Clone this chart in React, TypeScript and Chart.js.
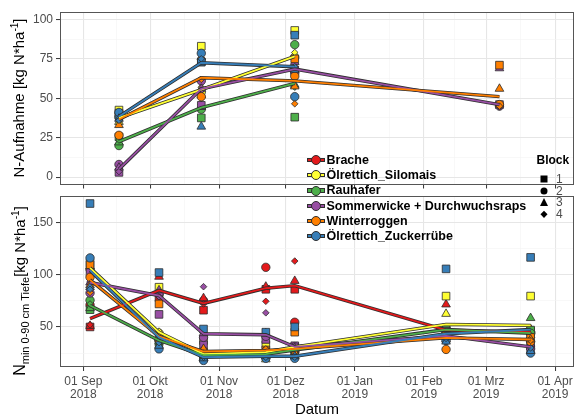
import React, { useEffect, useRef } from "react";
import { Chart, registerables } from "chart.js";

Chart.register(...registerables);

const FONT = "'Liberation Sans', Arial, Helvetica, sans-serif";

// ---- categories ----
const treatments = [
  "Brache",
  "Ölrettich_Silomais",
  "Rauhafer",
  "Sommerwicke + Durchwuchsraps",
  "Winterroggen",
  "Ölrettich_Zuckerrübe",
];
const treatmentColors = ["#E41A1C", "#FFFF33", "#4DAF4A", "#984EA3", "#FF7F00", "#377EB8"];
const blockLabels = ["1", "2", "3", "4"];
const blockShapes = ["rect", "circle", "triangle", "rectRot"];
const blockRadius = [5.4, 4.2, 5.0, 3.3];

// ---- x axis (days since 01 Sep 2018) ----
const xMin = -10.5;
const xMax = 220.5;
const monthTicks = [0, 30, 61, 91, 122, 153, 181, 212];
const monthLabels = [
  ["01 Sep", "2018"],
  ["01 Okt", "2018"],
  ["01 Nov", "2018"],
  ["01 Dez", "2018"],
  ["01 Jan", "2019"],
  ["01 Feb", "2019"],
  ["01 Mrz", "2019"],
  ["01 Apr", "2019"],
];

// ---- top panel: N-Aufnahme ----
const uptakeDays = [16, 53, 95, 187];
const uptakeTicks = [0, 25, 50, 75, 100];
const uptakeMin = -4.7;
const uptakeMax = 104.7;
// rows = treatments, cols = uptakeDays
const uptakeMean = [
  [null, null, null, null],
  [37.5, 55.5, 76.5, null],
  [22.5, 44, 59.5, null],
  [5, 56, 68.5, 46],
  [36.5, 63, 61, 51],
  [38.5, 72.5, 70, null],
];
const uptakeB1 = [
  [null, null, null, null],
  [42.5, 83, 93, null],
  [25.5, 37.5, 38, null],
  [3, 45.5, 68, 46],
  [40.5, 73, 75, 71],
  [39, 73, 90, null],
];
const uptakeB2 = [
  [null, null, null, null],
  [38, 54, 76, null],
  [20, 43, 84, null],
  [8, 61, 66, 45],
  [26.5, 51, 64, 46],
  [41, 78.5, 51, null],
];
const uptakeB3 = [
  [null, null, null, null],
  [35, 52, 70, null],
  [22, 44.5, 58.5, null],
  [6, 56, 73, 69],
  [33, 76, 57.5, 56],
  [37, 32, 68, null],
];
const uptakeB4 = [
  [null, null, null, null],
  [35, 57, 79, null],
  [23.5, 46, 57, null],
  [3.5, 55, 63, 44.5],
  [37, 62, 46.5, 45],
  [36, 75, 70, null],
];

// ---- bottom panel: Nmin 0-90 cm ----
const nminDays = [3, 34, 54, 82, 95, 163, 201];
const nminTicks = [50, 100, 150];
const nminMin = 11.7;
const nminMax = 175.2;
const nminMean = [
  [58, 85, 72.5, 87, 89.5, 47, 45],
  [106.5, 45, 24, 26, 31, 52.5, 51.5],
  [70.5, 37, 23, 24, 28, 47.5, 44],
  [92.5, 80, 43.5, 42.5, 31, 41.5, 31],
  [95, 41, 26.5, 27.5, 29, 39.5, 38],
  [104, 40, 21, 22, 22, 43.5, 47.5],
];
const nminB1 = [
  [50, 78, 66, 86, 86, 48, 46],
  [111, 88, 37, 33, 31, 79.5, 79.5],
  [66.5, 35, 22, 25, 27, 49, 47],
  [102, 62, 33, 38, 32, 46, 32],
  [109.5, 72, 26, 28, 45, 42, 40],
  [168, 102, 48, 45, 50, 105.5, 116.5],
];
const nminB2 = [
  [71, 81, 75, 107, 54.5, 45, 44],
  [105, 44, 22, 27, 28, 48, 45],
  [75.5, 37, 23, 24, 28, 40, 44],
  [82.5, 82, 40, 41, 31, 43, 29],
  [97.5, 38, 27, 27, 27, 28.5, 36],
  [116, 29, 18, 20, 20, 37, 25],
];
const nminB3 = [
  [51, 98, 77.5, 88.5, 94, 71.5, 48],
  [108, 42, 20, 19, 30, 62.5, 42],
  [68, 36, 24, 23, 26, 42, 58.5],
  [92.5, 85, 44, 44, 30, 40, 34],
  [90, 40, 29, 26, 28, 38, 38],
  [88, 32, 20, 22, 22, 36, 27],
];
const nminB4 = [
  [52, 83, 72, 74.5, 113, 44, 45],
  [102, 46, 23, 24, 32, 47, 43],
  [72, 40, 21, 22, 25, 38, 42],
  [93, 79, 88.5, 63.5, 29, 39, 31],
  [83, 42, 25, 29, 26, 41, 37],
  [86, 35, 21, 21, 21, 39, 30],
];

// ---------------------------------------------------------------

function minorBetween(major: number[], lo: number, hi: number) {
  const out: number[] = [];
  for (let i = 0; i < major.length - 1; i++) out.push((major[i] + major[i + 1]) / 2);
  if (major.length > 1) {
    out.push(major[0] - (major[1] - major[0]) / 2);
    const n = major.length;
    out.push(major[n - 1] + (major[n - 1] - major[n - 2]) / 2);
  }
  return out.filter((v) => v > lo && v < hi);
}

function buildDatasets(days: number[], mean: (number | null)[][], blocks: (number | null)[][][]) {
  const ds: any[] = [];
  treatments.forEach((_t, ti) => {
    blocks.forEach((rows, bi) => {
      const pts = days
        .map((d, di) => (rows[ti][di] == null ? null : { x: d, y: rows[ti][di] }))
        .filter((p) => p !== null);
      if (!pts.length) return;
      ds.push({
        type: "scatter",
        label: treatments[ti] + " " + blockLabels[bi],
        data: pts,
        pointStyle: blockShapes[bi],
        pointRadius: blockRadius[bi],
        pointHoverRadius: blockRadius[bi],
        backgroundColor: treatmentColors[ti],
        borderColor: "#2b2b2b",
        borderWidth: 0.8,
        showLine: false,
        order: 3 + (5 - ti) * 0.01 + (3 - bi) * 0.001,
      });
    });
  });
  treatments.forEach((_t, ti) => {
    const pts = days
      .map((d, di) => (mean[ti][di] == null ? null : { x: d, y: mean[ti][di] }))
      .filter((p) => p !== null);
    if (!pts.length) return;
    ds.push({
      type: "line",
      label: treatments[ti] + " outline",
      data: pts,
      borderColor: "#2e2e2e",
      borderWidth: 3.4,
      pointRadius: 0,
      fill: false,
      tension: 0,
      order: 2 + (5 - ti) * 0.01,
    });
    ds.push({
      type: "line",
      label: treatments[ti],
      data: pts,
      borderColor: treatmentColors[ti],
      borderWidth: 1.8,
      pointRadius: 0,
      fill: false,
      tension: 0,
      order: 1 + (5 - ti) * 0.01,
    });
  });
  return ds;
}

const MAJOR = "#E6E6E6";
const MINOR = "#F3F3F3";
const TICKC = "#333333";
const Y_AXIS_W = 60;

function makeScales(yMin: number, yMax: number, yMajor: number[], showX: boolean, xAxisH: number) {
  const yMinor = minorBetween(yMajor, yMin, yMax);
  const yAll = [...yMajor, ...yMinor].sort((a, b) => a - b);
  const xMinor = minorBetween(monthTicks, xMin, xMax);
  const xAll = [...monthTicks, ...xMinor].filter((v) => v >= xMin && v <= xMax).sort((a, b) => a - b);
  const isMajX = (v: number) => monthTicks.includes(v);
  const isMajY = (v: number) => yMajor.includes(v);
  return {
    x: {
      type: "linear",
      min: xMin,
      max: xMax,
      bounds: "data",
      afterBuildTicks: (axis: any) => {
        axis.ticks = xAll.map((v) => ({ value: v }));
      },
      afterFit: (axis: any) => {
        axis.height = xAxisH;
        axis.paddingLeft = 0;
        axis.paddingRight = 0;
        axis.paddingTop = 0;
        axis.paddingBottom = 0;
      },
      ticks: {
        display: showX,
        autoSkip: false,
        maxRotation: 0,
        minRotation: 0,
        padding: 4,
        color: "#4D4D4D",
        font: { family: FONT, size: 12, lineHeight: 1.12 },
        callback: (v: number) => {
          const i = monthTicks.indexOf(v);
          return i >= 0 ? monthLabels[i] : "";
        },
      },
      grid: {
        drawTicks: true,
        tickLength: 4,
        color: (c: any) => (c.tick && isMajX(c.tick.value) ? MAJOR : MINOR),
        lineWidth: (c: any) => (c.tick && isMajX(c.tick.value) ? 1.1 : 0.6),
        tickColor: (c: any) => (c.tick && isMajX(c.tick.value) ? TICKC : "rgba(0,0,0,0)"),
        tickWidth: 1,
      },
      border: { display: false },
      title: showX
        ? {
            display: true,
            text: "Datum",
            color: "#000000",
            font: { family: FONT, size: 15, lineHeight: 1 },
            padding: { top: 0, bottom: 0 },
          }
        : { display: false },
    },
    y: {
      type: "linear",
      min: yMin,
      max: yMax,
      bounds: "data",
      afterBuildTicks: (axis: any) => {
        axis.ticks = yAll.map((v) => ({ value: v }));
      },
      afterFit: (axis: any) => {
        axis.width = Y_AXIS_W;
        axis.paddingLeft = 0;
        axis.paddingRight = 0;
        axis.paddingTop = 0;
        axis.paddingBottom = 0;
      },
      ticks: {
        autoSkip: false,
        padding: 3,
        color: "#4D4D4D",
        font: { family: FONT, size: 12 },
        callback: (v: number) => (isMajY(v) ? String(v) : ""),
      },
      grid: {
        drawTicks: true,
        tickLength: 4,
        color: (c: any) => (c.tick && isMajY(c.tick.value) ? MAJOR : MINOR),
        lineWidth: (c: any) => (c.tick && isMajY(c.tick.value) ? 1.1 : 0.6),
        tickColor: (c: any) => (c.tick && isMajY(c.tick.value) ? TICKC : "rgba(0,0,0,0)"),
        tickWidth: 1,
      },
      border: { display: false },
    },
  };
}

const panelBorder = {
  id: "panelBorder",
  afterDatasetsDraw(chart: any) {
    const { ctx, chartArea: a } = chart;
    ctx.save();
    ctx.strokeStyle = "#555555";
    ctx.lineWidth = 1;
    const l = Math.round(a.left) + 0.5;
    const t = Math.round(a.top) + 0.5;
    const r = Math.round(a.right) - 0.5;
    const b = Math.round(a.bottom) - 0.5;
    ctx.strokeRect(l, t, r - l, b - t);
    ctx.restore();
  },
};

type Box = { left: number; top: number; right: number; bottom: number };

function makeChart(
  canvas: HTMLCanvasElement,
  canvasW: number,
  canvasH: number,
  days: number[],
  mean: (number | null)[][],
  blocks: (number | null)[][][],
  yMin: number,
  yMax: number,
  yMajor: number[],
  showX: boolean,
  xAxisH: number,
  target: Box
) {
  const padding = {
    left: target.left - Y_AXIS_W,
    top: target.top,
    right: canvasW - target.right,
    bottom: canvasH - target.bottom - xAxisH,
  };
  const chart = new Chart(canvas, {
    type: "scatter",
    data: { datasets: buildDatasets(days, mean, blocks) },
    options: {
      animation: false,
      responsive: false,
      maintainAspectRatio: false,
      events: [],
      layout: { padding, autoPadding: false },
      plugins: { legend: { display: false }, tooltip: { enabled: false }, title: { display: false } },
      scales: makeScales(yMin, yMax, yMajor, showX, xAxisH) as any,
    },
    plugins: [panelBorder],
  } as any);
  return chart;
}

const legendRowsY = [160, 175.2, 190.4, 205.6, 220.8, 236];
const blockRowsY = [179.3, 190.8, 202.4, 214];

function BlockShape({ i }: { i: number }) {
  if (i === 0) return <div style={{ width: 7, height: 7, background: "#000" }} />;
  if (i === 1) return <div style={{ width: 7, height: 7, background: "#000", borderRadius: "50%" }} />;
  if (i === 2)
    return (
      <div
        style={{
          width: 0,
          height: 0,
          borderLeft: "4.5px solid transparent",
          borderRight: "4.5px solid transparent",
          borderBottom: "8px solid #000",
        }}
      />
    );
  return <div style={{ width: 4.5, height: 4.5, background: "#000", transform: "rotate(45deg)" }} />;
}

export default function App() {
  const topRef = useRef<HTMLCanvasElement>(null);
  const botRef = useRef<HTMLCanvasElement>(null);

  useEffect(() => {
    const c1 = makeChart(
      topRef.current!,
      575,
      192,
      uptakeDays,
      uptakeMean,
      [uptakeB1, uptakeB2, uptakeB3, uptakeB4],
      uptakeMin,
      uptakeMax,
      uptakeTicks,
      false,
      5,
      { left: 60, top: 12, right: 574, bottom: 184.5 }
    );
    const c2 = makeChart(
      botRef.current!,
      575,
      240,
      nminDays,
      nminMean,
      [nminB1, nminB2, nminB3, nminB4],
      nminMin,
      nminMax,
      nminTicks,
      true,
      50,
      { left: 60, top: 6, right: 574, bottom: 177 }
    );
    return () => {
      c1.destroy();
      c2.destroy();
    };
  }, []);

  const titleStyle: React.CSSProperties = {
    position: "absolute",
    transform: "translate(-50%,-50%) rotate(-90deg)",
    whiteSpace: "nowrap",
    fontFamily: FONT,
    fontSize: 15,
    lineHeight: "17px",
    color: "#000",
  };

  return (
    <div
      style={{
        position: "fixed",
        left: 0,
        top: 0,
        width: 575,
        height: 416,
        overflow: "hidden",
        background: "#fff",
      }}
    >
      <canvas
        ref={topRef}
        width={575}
        height={192}
        style={{ position: "absolute", left: 0, top: 0, width: 575, height: 192 }}
      />
      <canvas
        ref={botRef}
        width={575}
        height={240}
        style={{ position: "absolute", left: 0, top: 190, width: 575, height: 240 }}
      />
      <div style={{ ...titleStyle, left: 19, top: 98 }}>
        N-Aufnahme [kg N*ha<sup style={{ fontSize: 10, verticalAlign: 0, position: "relative", top: -6 }}>-1</sup>]
      </div>
      <div style={{ ...titleStyle, left: 20, top: 291 }}>
        <span style={{ fontSize: 16 }}>N</span>
        <sub style={{ fontSize: 11, verticalAlign: 0, position: "relative", top: 4 }}>min 0-90 cm Tiefe</sub>
        [kg N*ha<sup style={{ fontSize: 10, verticalAlign: 0, position: "relative", top: -6 }}>-1</sup>]
      </div>
      {treatments.map((t, i) => (
        <React.Fragment key={t}>
          <div
            style={{
              position: "absolute",
              left: 307,
              top: legendRowsY[i] - 2,
              width: 16,
              height: 2.2,
              background: treatmentColors[i],
              border: "0.8px solid #2e2e2e",
            }}
          />
          <div
            style={{
              position: "absolute",
              left: 310.5,
              top: legendRowsY[i] - 4.8,
              width: 8,
              height: 8,
              borderRadius: "50%",
              background: treatmentColors[i],
              border: "0.9px solid #2e2e2e",
            }}
          />
          <div
            style={{
              position: "absolute",
              left: 326.5,
              top: legendRowsY[i] - 8,
              height: 16,
              lineHeight: "16px",
              fontFamily: FONT,
              fontWeight: "bold",
              fontSize: 12.5,
              color: "#000",
              whiteSpace: "nowrap",
            }}
          >
            {t}
          </div>
        </React.Fragment>
      ))}
      <div
        style={{
          position: "absolute",
          left: 536.5,
          top: 152,
          lineHeight: "16px",
          fontFamily: FONT,
          fontWeight: "bold",
          fontSize: 12,
          color: "#000",
        }}
      >
        Block
      </div>
      {blockLabels.map((b, i) => (
        <React.Fragment key={b}>
          <div
            style={{
              position: "absolute",
              left: 544,
              top: blockRowsY[i],
              transform: "translate(-50%,-50%)",
            }}
          >
            <BlockShape i={i} />
          </div>
          <div
            style={{
              position: "absolute",
              left: 556,
              top: blockRowsY[i] - 7,
              lineHeight: "14px",
              fontFamily: FONT,
              fontSize: 12,
              color: "#4D4D4D",
            }}
          >
            {b}
          </div>
        </React.Fragment>
      ))}
    </div>
  );
}
